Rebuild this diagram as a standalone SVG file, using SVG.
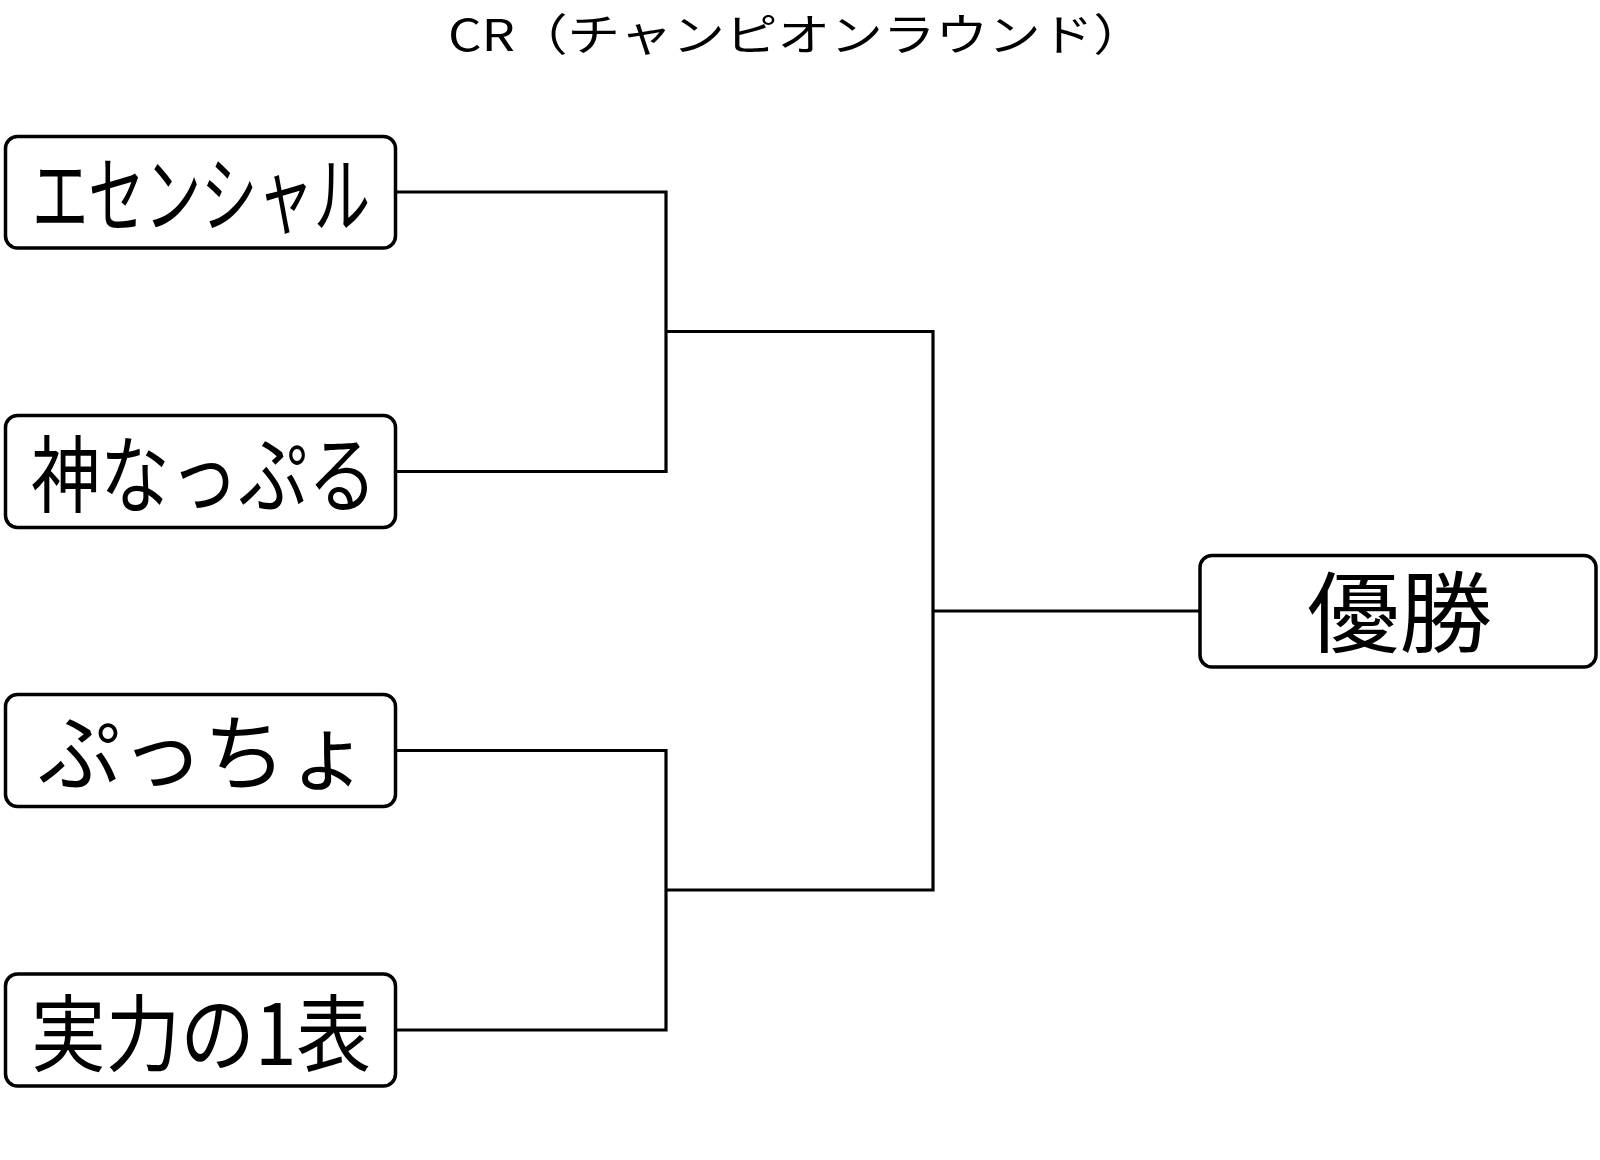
<svg xmlns="http://www.w3.org/2000/svg" width="1600" height="1160" viewBox="0 0 1600 1160">
<style>
.box{fill:#ffffff;stroke:#000000;stroke-width:3.5}
.lbl{font-family:"Noto Sans CJK JP","Noto Sans",sans-serif;font-size:84px;fill:#000000}
.con{fill:none;stroke:#000000;stroke-width:3.2}
.title{font-family:"Noto Sans CJK JP","Noto Sans",sans-serif;font-size:44px;fill:#000000}
</style>
<rect width="1600" height="1160" fill="#ffffff"/>
<text class="title" x="448" y="51" textLength="698" lengthAdjust="spacingAndGlyphs">CR（チャンピオンラウンド）</text>
<g id="connectors">
<path class="con" d="M396,192 H666 V471.5 H396"/>
<path class="con" d="M396,750.5 H666 V1030 H396"/>
<path class="con" d="M666,331.5 H933 V890 H666"/>
<path class="con" d="M933,611 H1200"/>
</g>
<g id="n1">
<rect class="box" x="5.5" y="136.5" width="390" height="111.5" rx="12"/>
<text class="lbl" x="32" y="226" textLength="338" lengthAdjust="spacingAndGlyphs">エセンシャル</text>
</g>
<g id="n2">
<rect class="box" x="5.5" y="415.5" width="390" height="112" rx="12"/>
<text class="lbl" x="31" y="506" textLength="346" lengthAdjust="spacingAndGlyphs">神なっぷる</text>
</g>
<g id="n3">
<rect class="box" x="5.5" y="694.5" width="390" height="112" rx="12"/>
<text class="lbl" x="38" y="784" textLength="331" lengthAdjust="spacingAndGlyphs">ぷっちょ</text>
</g>
<g id="n4">
<rect class="box" x="5.5" y="974" width="390" height="112" rx="12"/>
<text class="lbl" x="31" y="1065" textLength="340" lengthAdjust="spacingAndGlyphs">実力の1表</text>
</g>
<g id="n5">
<rect class="box" x="1200" y="555.5" width="396" height="111.5" rx="12"/>
<text class="lbl" x="1307" y="645" style="font-size:88px" textLength="185" lengthAdjust="spacingAndGlyphs">優勝</text>
</g>
</svg>
